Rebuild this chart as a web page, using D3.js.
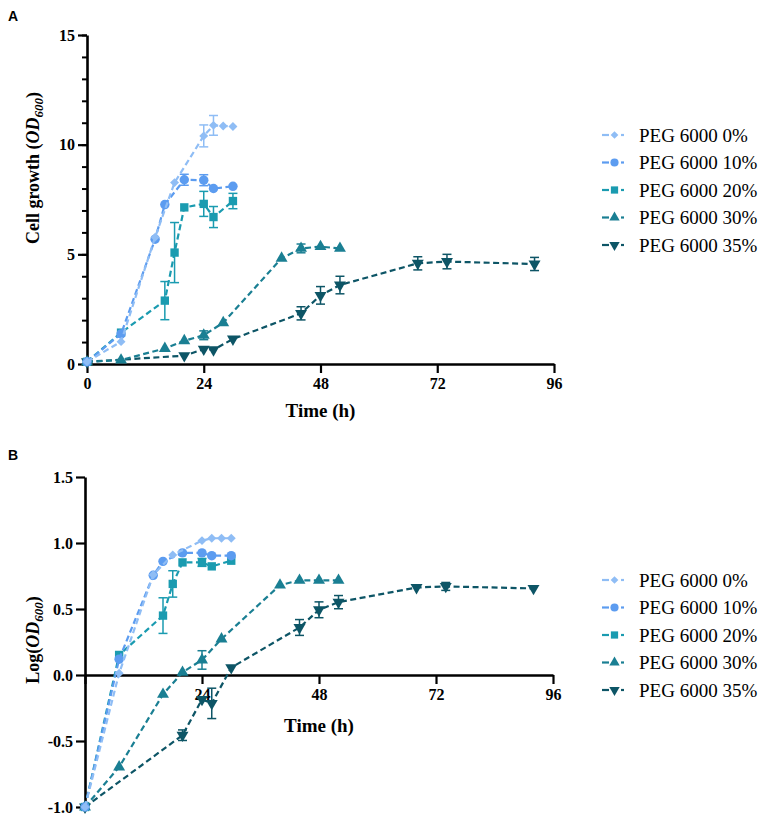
<!DOCTYPE html>
<html lang="en">
<head>
    <meta charset="UTF-8">
    <title>PEG 6000 growth</title>
    <style>
        body { margin: 0; background: #fff; }
        svg { display: block; }
    </style>
</head>
<body>
<svg></svg>
<script src="https://cdnjs.cloudflare.com/ajax/libs/d3/7.8.5/d3.min.js"></script>
<script>
    // series names, colours
    var seriesNames = ["PEG 6000 0%", "PEG 6000 10%", "PEG 6000 20%", "PEG 6000 30%", "PEG 6000 35%"];
    var seriesColors = ["#8fbdf5", "#5c9cf0", "#1a9bb0", "#1a7f93", "#0d5566"];
    var seriesShapes = ["diamond", "circle", "square", "triangle", "triangleDown"];

    // sampling times (h)
    var time0 = [0, 7, 14, 18, 24, 26, 28, 30];
    var time10 = [0, 7, 14, 16, 20, 24, 26, 30];
    var time20 = [0, 7, 16, 18, 20, 24, 26, 30];
    var time30 = [0, 7, 16, 20, 24, 28, 40, 44, 48, 52];
    var time35 = [0, 20, 24, 26, 30, 44, 48, 52, 68, 74, 92];

    // panel A: OD600
    var od0 = [0.1, 1.02, 5.78, 8.27, 10.4, 10.88, 10.85, 10.83];
    var od10 = [0.1, 1.37, 5.69, 7.27, 8.4, 8.38, 8.0, 8.1];
    var od20 = [0.1, 1.43, 2.89, 5.08, 7.14, 7.3, 6.7, 7.43];
    var od30 = [0.1, 0.18, 0.71, 1.06, 1.31, 1.88, 4.82, 5.27, 5.35, 5.27];
    var od35 = [0.1, 0.38, 0.68, 0.65, 1.14, 2.31, 3.13, 3.6, 4.59, 4.67, 4.56];
    var odErr0 = [0, 0, 0, 0, 0.5, 0.45, 0, 0];
    var odErr10 = [0, 0, 0, 0, 0.25, 0.25, 0, 0];
    var odErr20 = [0, 0, 0.87, 1.37, 0, 0.57, 0.48, 0.35];
    var odErr30 = [0, 0, 0, 0, 0.2, 0, 0, 0.2, 0, 0];
    var odErr35 = [0, 0, 0, 0, 0, 0.3, 0.4, 0.4, 0.3, 0.33, 0.3];

    // panel B: Log(OD600)
    var log0 = [-1, 0.013, 0.76, 0.91, 1.018, 1.036, 1.036, 1.036];
    var log10 = [-1, 0.12, 0.755, 0.861, 0.925, 0.925, 0.904, 0.904];
    var log20 = [-1, 0.152, 0.45, 0.69, 0.853, 0.853, 0.823, 0.866];
    var log30 = [-1, -0.697, -0.147, 0.02, 0.114, 0.273, 0.681, 0.717, 0.717, 0.717];
    var log35 = [-1, -0.456, -0.185, -0.215, 0.056, 0.36, 0.494, 0.552, 0.663, 0.671, 0.656];
    var logErr0 = [0, 0, 0, 0, 0, 0, 0, 0];
    var logErr10 = [0, 0, 0, 0, 0, 0, 0, 0];
    var logErr20 = [0, 0, 0.135, 0.1, 0, 0.03, 0, 0];
    var logErr30 = [0, 0, 0, 0, 0.07, 0, 0, 0, 0, 0];
    var logErr35 = [0, 0.04, 0, 0.115, 0, 0.06, 0.06, 0.05, 0, 0.03, 0];

    var timeTicks = [0, 24, 48, 72, 96];
    var odTicks = [0, 5, 10, 15];
    var odMinorTicks = d3.range(0, 16, 1);
    var logTicks = [-1, -0.5, 0, 0.5, 1, 1.5];

    var times = [time0, time10, time20, time30, time35];

    function buildSeries(vals, errs) {
        return seriesNames.map(function (name, i) {
            return {
                name: name, color: seriesColors[i], shape: seriesShapes[i],
                points: times[i].map(function (t, j) {
                    return {t: t, v: vals[i][j], e: errs[i][j]};
                })
            };
        });
    }

    var seriesA = buildSeries([od0, od10, od20, od30, od35], [odErr0, odErr10, odErr20, odErr30, odErr35]);
    var seriesB = buildSeries([log0, log10, log20, log30, log35], [logErr0, logErr10, logErr20, logErr30, logErr35]);

    var serif = '"Liberation Serif", "Times New Roman", serif';

    var svg = d3.select("svg").attr("width", 767).attr("height", 822);

    function symbolPath(shape, size) {
        var type = {
            diamond: d3.symbolSquare, circle: d3.symbolCircle, square: d3.symbolSquare,
            triangle: d3.symbolTriangle, triangleDown: d3.symbolTriangle
        }[shape];
        return d3.symbol().type(type).size(size)();
    }

    function symbolRotate(shape) {
        if (shape === "triangleDown") return " rotate(180)";
        if (shape === "diamond") return " rotate(45)";
        return "";
    }

    function markerSize(shape) {
        return {diamond: 40, circle: 70, square: 70, triangle: 62, triangleDown: 62}[shape];
    }

    function drawPanel(opt) {
        var x = d3.scaleLinear().domain([0, 96]).range(opt.xRange);
        var y = d3.scaleLinear().domain(opt.yDomain).range(opt.yRange);
        var g = svg.append("g");

        // x axis
        var xAxis = g.append("g")
            .attr("transform", "translate(0," + y(opt.xAxisAt) + ")")
            .call(d3.axisBottom(x).tickValues(timeTicks).tickSize(9).tickSizeOuter(0).tickPadding(5)
                .tickFormat(function (d) { return (opt.hideZeroX && d === 0) ? "" : d; }));
        // y axis minor ticks
        if (opt.minorTicks) {
            g.append("g")
                .attr("transform", "translate(" + opt.xRange[0] + ",0)")
                .call(d3.axisLeft(y).tickValues(opt.minorTicks).tickSize(5).tickSizeOuter(0).tickFormat(""))
                .call(function (s) { s.select(".domain").remove(); s.selectAll("line").attr("stroke-width", 2); });
        }
        var yAxis = g.append("g")
            .attr("transform", "translate(" + opt.xRange[0] + ",0)")
            .call(d3.axisLeft(y).tickValues(opt.yTicks).tickSize(9).tickSizeOuter(0).tickPadding(3)
                .tickFormat(opt.yFormat));

        [xAxis, yAxis].forEach(function (a) {
            a.attr("font-family", serif).attr("font-size", 16).attr("font-weight", "bold");
            a.select(".domain").attr("stroke-width", 2.6);
            a.selectAll(".tick line").attr("stroke-width", 2.2);
            a.selectAll(".tick text").attr("fill", "#000");
        });

        // series, darkest drawn first
        var line = d3.line().x(function (d) { return x(d.t); }).y(function (d) { return y(d.v); });
        var ordered = opt.series.slice().reverse();

        ordered.forEach(function (s) {
            var sg = g.append("g");
            sg.append("path")
                .datum(s.points)
                .attr("d", line)
                .attr("fill", "none")
                .attr("stroke", s.color)
                .attr("stroke-width", 2.2)
                .attr("stroke-dasharray", "6,3.5");

            var eb = sg.selectAll(".err").data(s.points.filter(function (d) { return d.e > 0; }))
                .enter().append("g").attr("stroke", s.color).attr("stroke-width", 1.5);
            eb.append("line")
                .attr("x1", function (d) { return x(d.t); }).attr("x2", function (d) { return x(d.t); })
                .attr("y1", function (d) { return y(d.v - d.e); }).attr("y2", function (d) { return y(d.v + d.e); });
            eb.append("line")
                .attr("x1", function (d) { return x(d.t) - 4.5; }).attr("x2", function (d) { return x(d.t) + 4.5; })
                .attr("y1", function (d) { return y(d.v + d.e); }).attr("y2", function (d) { return y(d.v + d.e); });
            eb.append("line")
                .attr("x1", function (d) { return x(d.t) - 4.5; }).attr("x2", function (d) { return x(d.t) + 4.5; })
                .attr("y1", function (d) { return y(d.v - d.e); }).attr("y2", function (d) { return y(d.v - d.e); });

            sg.selectAll(".mk").data(s.points).enter().append("path")
                .attr("d", symbolPath(s.shape, markerSize(s.shape)))
                .attr("transform", function (d) {
                    return "translate(" + x(d.t) + "," + y(d.v) + ")" + symbolRotate(s.shape);
                })
                .attr("fill", s.color);
        });

        // x title
        g.append("text")
            .attr("x", (opt.xRange[0] + opt.xRange[1]) / 2)
            .attr("y", opt.xTitleY)
            .attr("text-anchor", "middle")
            .style("font-family", serif).style("font-weight", "bold").style("font-size", "19px")
            .text("Time (h)");

        // y title
        var yt = g.append("text")
            .attr("transform", "translate(" + opt.yTitlePos[0] + "," + opt.yTitlePos[1] + ") rotate(-90)")
            .attr("text-anchor", "middle")
            .style("font-family", serif).style("font-weight", "bold").style("font-size", "18px");
        yt.append("tspan").text(opt.yTitlePre);
        yt.append("tspan").style("font-style", "italic").text("OD");
        yt.append("tspan").style("font-style", "italic").style("font-size", "13px").attr("dy", 4).text("600");
        yt.append("tspan").attr("dy", -4).text(")");

        // panel letter
        g.append("text")
            .attr("x", 8).attr("y", opt.letterY)
            .style("font-family", '"Liberation Sans", Arial, sans-serif').style("font-weight", "bold").style("font-size", "14px")
            .text(opt.letter);

        // legend
        var lg = g.append("g");
        opt.series.forEach(function (s, i) {
            var ly = opt.legendY + i * 27.5;
            lg.append("line").attr("x1", 602).attr("x2", 609).attr("y1", ly).attr("y2", ly)
                .attr("stroke", s.color).attr("stroke-width", 2.2);
            lg.append("line").attr("x1", 621).attr("x2", 624).attr("y1", ly).attr("y2", ly)
                .attr("stroke", s.color).attr("stroke-width", 2.2);
            lg.append("path")
                .attr("d", symbolPath(s.shape, markerSize(s.shape) * 0.75))
                .attr("transform", "translate(614.5," + ly + ")" + symbolRotate(s.shape))
                .attr("fill", s.color);
            lg.append("text")
                .attr("x", 639).attr("y", ly + 6.5)
                .style("font-family", serif).style("font-size", "19px")
                .text(s.name);
        });
    }

    drawPanel({
        letter: "A", letterY: 21,
        series: seriesA,
        xRange: [87, 554], yDomain: [0, 15], yRange: [364, 35],
        xAxisAt: 0, yTicks: odTicks, minorTicks: odMinorTicks,
        yFormat: function (d) { return d; },
        hideZeroX: false,
        xTitleY: 417,
        yTitlePos: [39, 168], yTitlePre: "Cell growth (",
        legendY: 135
    });

    drawPanel({
        letter: "B", letterY: 460,
        series: seriesB,
        xRange: [85, 553], yDomain: [-1, 1.5], yRange: [807, 477],
        xAxisAt: 0, yTicks: logTicks, minorTicks: null,
        yFormat: function (d) { return d.toFixed(1); },
        hideZeroX: true,
        xTitleY: 732,
        yTitlePos: [39, 640], yTitlePre: "Log(",
        legendY: 580
    });
</script>
</body>
</html>
